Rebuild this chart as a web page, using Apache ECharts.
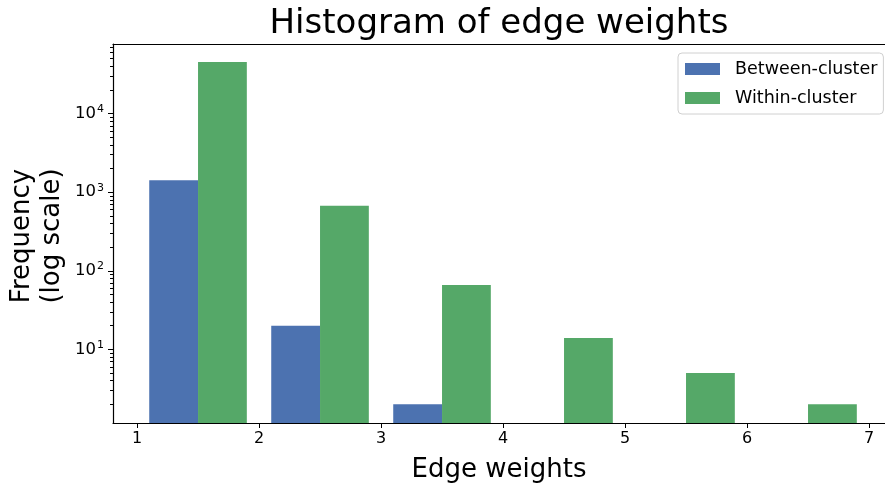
<!DOCTYPE html>
<html>
<head>
<meta charset="utf-8">
<script src="https://cdn.jsdelivr.net/npm/echarts@6/dist/echarts.min.js"></script>
<style>html,body{margin:0;padding:0;background:#fff}#c{width:885px;height:488px}</style>
</head>
<body>
<div id="c"></div>
<script>
// ---- data ----
const betweenBinStart = [1.1, 2.1, 3.1];
const betweenCounts   = [1420, 20, 2];
const withinBinStart  = [1.5, 2.5, 3.5, 4.5, 5.5, 6.5];
const withinCounts    = [45500, 670, 66, 14, 5, 2];
const binWidth = 0.4;
const xTickValues = [1, 2, 3, 4, 5, 6, 7];
const yMajorTicks = [10, 100, 1000, 10000];

const xMin = 0.803, xMax = 7.131;
const yMin = 1.156, yMax = 76900;

const yMinorTicks = [];
for (let d = 1; d <= 10000; d *= 10) {
  for (let k = 2; k <= 9; k++) {
    const v = k * d;
    if (v >= yMin && v <= yMax) yMinorTicks.push(v);
  }
}

const FONT = 'DejaVu Sans';
const chart = echarts.init(document.getElementById('c'), null, {renderer: 'canvas'});

function barRender(color) {
  return function (params, api) {
    const x0 = api.value(0), x1 = api.value(1), y = api.value(2);
    const pTop = api.coord([x0, y]);
    const pBot = api.coord([x1, yMin]);
    return {
      type: 'rect',
      shape: {x: pTop[0], y: pTop[1], width: pBot[0] - pTop[0], height: pBot[1] - pTop[1]},
      style: {fill: color}
    };
  };
}

const blue = '#4c72b0', green = '#55a868';

chart.setOption({
  animation: false,
  backgroundColor: '#fff',
  textStyle: {fontFamily: FONT},
  title: {
    text: 'Histogram of edge weights',
    left: 494, top: 2, textAlign: 'center',
    textStyle: {fontFamily: FONT, fontSize: 34, fontWeight: 'normal', color: '#000'}
  },
  legend: {
    orient: 'vertical',
    left: 678, top: 53,
    padding: [7, 6, 7, 7],
    itemWidth: 35, itemHeight: 12, itemGap: 11,
    icon: 'rect',
    borderColor: '#d0d0d0', borderWidth: 1, borderRadius: 4,
    textStyle: {fontFamily: FONT, fontSize: 17.5, color: '#000', padding: [0, 0, 0, 10]},
    data: ['Between-cluster', 'Within-cluster']
  },
  grid: {left: 113, top: 44, width: 772, height: 381, containLabel: false},
  xAxis: [{
    type: 'value', min: xMin, max: xMax,
    axisLine: {lineStyle: {color: '#000', width: 1.2}},
    axisTick: {customValues: xTickValues, length: 5, lineStyle: {color: '#000'}},
    axisLabel: {customValues: xTickValues, fontFamily: FONT, fontSize: 16, color: '#000', margin: 8},
    splitLine: {show: false},
    name: 'Edge weights', nameLocation: 'middle', nameGap: 34,
    nameTextStyle: {fontFamily: FONT, fontSize: 26, color: '#000'}
  }, {
    type: 'value', min: xMin, max: xMax, position: 'top',
    axisLine: {show: true, lineStyle: {color: '#000', width: 1.2}},
    axisTick: {show: false}, axisLabel: {show: false}, splitLine: {show: false}
  }],
  yAxis: [{
    type: 'log', min: yMin, max: yMax,
    axisLine: {show: true, lineStyle: {color: '#000', width: 1.2}},
    axisTick: {customValues: yMajorTicks, length: 5, lineStyle: {color: '#000'}},
    axisLabel: {
      customValues: yMajorTicks, margin: 9, color: '#000',
      formatter: function (v) {
        const e = Math.round(Math.log10(v));
        return '10{sup|' + e + '}';
      },
      rich: {sup: {fontSize: 11, verticalAlign: 'top', padding: [0, 0, 9, 1], fontFamily: FONT, color: '#000'}},
      fontFamily: FONT, fontSize: 16.5
    },
    splitLine: {show: false}
  }, {
    type: 'log', min: yMin, max: yMax, position: 'left',
    axisLine: {show: false},
    axisTick: {show: true, customValues: yMinorTicks, length: 3, lineStyle: {color: '#000'}},
    axisLabel: {show: false},
    splitLine: {show: false}
  }],
  graphic: [{
    type: 'text', x: 37, y: 236, rotation: Math.PI / 2,
    style: {
      text: 'Frequency\n(log scale)', fontFamily: FONT, fontSize: 26, fill: '#000',
      align: 'center', verticalAlign: 'middle', lineHeight: 30
    }
  }],
  series: [{
    name: 'Between-cluster', type: 'custom',
    itemStyle: {color: blue},
    renderItem: barRender(blue),
    encode: {x: [0, 1], y: 2},
    data: betweenBinStart.map((s, i) => [s, s + binWidth, betweenCounts[i]])
  }, {
    name: 'Within-cluster', type: 'custom',
    itemStyle: {color: green},
    renderItem: barRender(green),
    encode: {x: [0, 1], y: 2},
    data: withinBinStart.map((s, i) => [s, s + binWidth, withinCounts[i]])
  }]
});
</script>
</body>
</html>
